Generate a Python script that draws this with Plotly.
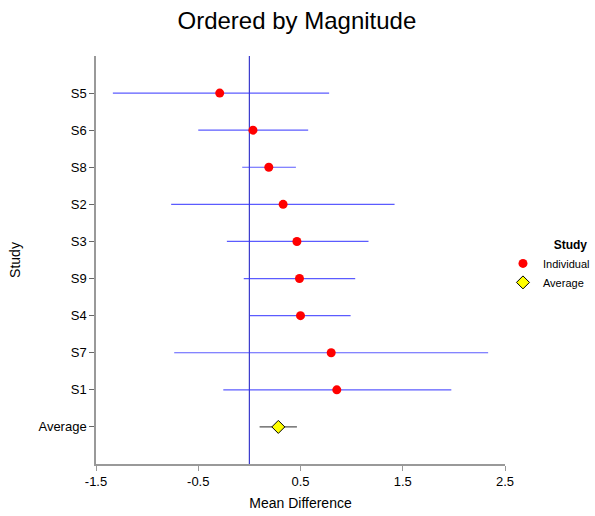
import plotly.graph_objects as go

studies = ["S5", "S6", "S8", "S2", "S3", "S9", "S4", "S7", "S1"]
means = [-0.29, 0.035, 0.19, 0.33, 0.465, 0.49, 0.50, 0.80, 0.855]
lower = [-1.335, -0.50, -0.07, -0.765, -0.22, -0.055, 0.005, -0.735, -0.255]
upper = [0.78, 0.575, 0.455, 1.42, 1.165, 1.035, 0.99, 2.335, 1.975]

avg_label = "Average"
avg_mean = 0.283
avg_lower = 0.10
avg_upper = 0.465

x_ticks = [-1.5, -0.5, 0.5, 1.5, 2.5]
order_bottom_up = [avg_label] + studies[::-1]

fig = go.Figure()
fig.add_trace(go.Scatter(
    x=means, y=studies, mode="markers", name="Individual",
    marker=dict(symbol="circle", size=9, color="#ff0000", line=dict(width=0)),
    error_x=dict(type="data", symmetric=False,
                 array=[u - m for u, m in zip(upper, means)],
                 arrayminus=[m - l for m, l in zip(means, lower)],
                 color="rgba(50,50,255,0.8)", thickness=1.2, width=0),
))
fig.add_trace(go.Scatter(
    x=[avg_mean], y=[avg_label], mode="markers", name="Average",
    marker=dict(symbol="diamond", size=10, color="#ffff00", line=dict(width=1, color="#000000")),
    error_x=dict(type="data", symmetric=False,
                 array=[avg_upper - avg_mean], arrayminus=[avg_mean - avg_lower],
                 color="#555555", thickness=1.2, width=0),
))

fig.add_shape(type="line", xref="x", yref="paper", x0=0, x1=0, y0=0, y1=1,
              line=dict(color="#3a3acc", width=1.2), layer="below")

fig.update_layout(
    width=595, height=516,
    margin=dict(l=96, r=90, t=56, b=52, autoexpand=False),
    paper_bgcolor="white", plot_bgcolor="white",
    font=dict(family="Liberation Sans, Arial, sans-serif", size=12, color="#000000"),
    title=dict(text="Ordered by Magnitude", xref="container", x=0.499, xanchor="center",
               yref="container", y=0.961, yanchor="middle", font=dict(size=24)),
    showlegend=True,
    legend=dict(title=dict(text="<b>Study</b><span style='color:rgba(0,0,0,0)'>x</span>",
                           font=dict(size=12), side="top right"),
                x=1.22, xanchor="right", y=0.487, yanchor="middle",
                font=dict(size=11), tracegroupgap=0, itemsizing="trace", itemwidth=30),
    xaxis=dict(range=[-1.5, 2.5], tickvals=x_ticks, ticktext=[str(v) for v in x_ticks],
               showgrid=False, zeroline=False, showline=True, linecolor="#999999", linewidth=1.5,
               ticks="outside", ticklen=5, tickcolor="#999999",
               title=dict(text="Mean Difference", font=dict(size=14), standoff=10),
               tickfont=dict(size=13)),
    yaxis=dict(type="category", categoryorder="array", categoryarray=order_bottom_up,
               range=[-1, len(order_bottom_up)],
               showgrid=False, zeroline=False, showline=True, linecolor="#999999", linewidth=1.5,
               ticks="outside", ticklen=5, tickcolor="#666666",
               title=dict(text="Study", font=dict(size=14), standoff=15),
               tickfont=dict(size=13)),
)

fig.write_html("out.html", config={"displayModeBar": False},
               post_script="document.body.style.margin='0px';")
